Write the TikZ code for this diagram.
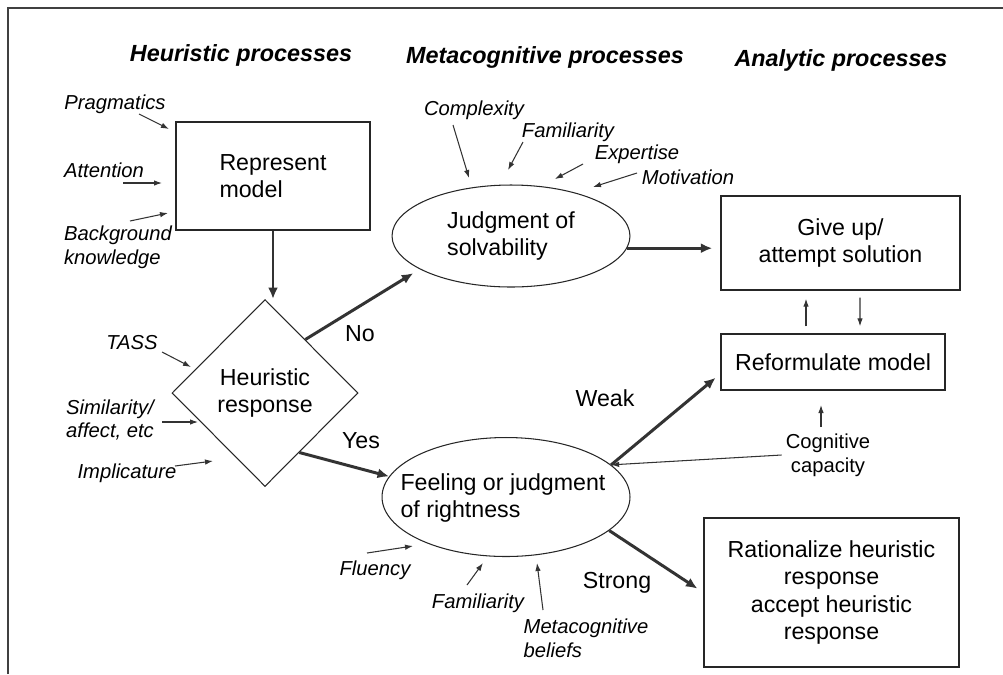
\documentclass[tikz,border=0pt]{standalone}
\usepackage{fontspec}
\setmainfont{Liberation Sans}
\usepackage{tikz}
\usetikzlibrary{shapes.geometric,arrows.meta,calc}
\colorlet{boxLine}{black!85}
\colorlet{arrowLine}{black!80}
\colorlet{frameLine}{black!75}
\newcommand\mainSize{\fontsize{13.2}{15.6}\selectfont}
\newcommand\labelSize{\fontsize{11.5}{13.4}\selectfont}
\newcommand\headSize{\fontsize{13.3}{16}\selectfont}

\begin{document}
\begin{tikzpicture}[
  x=0.02cm,
  y=-0.02cm,
  procBox/.style={
    draw=boxLine,
    line width=0.8pt,
    inner sep=0pt,
    font=\mainSize,
  },
  judgeEllipse/.style={
    ellipse,
    draw=boxLine,
    line width=0.6pt,
    inner sep=0pt,
    font=\mainSize,
  },
  heuristicDiamond/.style={
    diamond,
    aspect=1,
    draw=boxLine,
    line width=0.6pt,
    inner sep=0pt,
    font=\mainSize,
  },
  heading/.style={
    font=\headSize\bfseries\itshape,
    inner sep=0pt,
  },
  factorLabel/.style={
    font=\labelSize\itshape,
    align=left,
    inner sep=0pt,
  },
  branchLabel/.style={
    font=\mainSize,
    inner sep=0pt,
  },
  thinArrow/.style={
    draw=arrowLine,
    line width=0.6pt,
    -{Latex[length=1.6mm,width=1.1mm]},
  },
  thickArrow/.style={
    draw=arrowLine,
    line width=1.7pt,
    -{Latex[length=2.3mm,width=2mm]},
  }
]
\useasboundingbox (0,0) rectangle (1003,674);
\draw[frameLine, line width=1.1pt] (8,674) -- (8,8) -- (1003,8);

\node[heading] (hHeur) at (241,55) {Heuristic processes};
\node[heading] (hMeta) at (545,57) {Metacognitive processes};
\node[heading] (hAnal) at (841,60) {Analytic processes};

\node[procBox, minimum width=3.88cm, minimum height=2.16cm, align=left] (rep) at (273,176) {Represent\\model};
\node[heuristicDiamond, minimum width=3.72cm, minimum height=3.74cm, align=center] (dec) at (265,393) {Heuristic\\response};
\node[judgeEllipse, minimum width=4.76cm, minimum height=2.04cm, align=left] (solv) at (511,236) {Judgment of\\solvability};
\node[judgeEllipse, minimum width=4.96cm, minimum height=2.38cm] (feel) at (506,497) {};
\node[font=\mainSize, align=left, inner sep=0pt] (feelText) at (503,498) {Feeling or judgment\\of rightness};
\node[procBox, minimum width=4.78cm, minimum height=1.88cm, align=center] (giveup) at (840.5,243) {Give up/\\attempt solution};
\node[procBox, minimum width=4.48cm, minimum height=1.12cm] (reform) at (833,362) {Reformulate model};
\node[procBox, minimum width=5.1cm, minimum height=2.98cm, align=center] (rat) at (831.5,592.5) {Rationalize heuristic\\response\\accept heuristic\\response};
\node[font=\labelSize, align=center, inner sep=0pt] (cog) at (828,455) {Cognitive\\capacity};

\node[factorLabel] (prag) at (115,104) {Pragmatics};
\node[factorLabel] (attn) at (104,170) {Attention};
\node[factorLabel] (bgk) at (118,247) {Background\\knowledge};
\node[factorLabel] (tass) at (132,343) {TASS};
\node[factorLabel] (simil) at (110,420) {Similarity/\\affect, etc};
\node[factorLabel] (impl) at (127,473) {Implicature};
\node[factorLabel] (cplx) at (474,110) {Complexity};
\node[factorLabel] (famA) at (568,132) {Familiarity};
\node[factorLabel] (expt) at (637,154) {Expertise};
\node[factorLabel] (motv) at (688,177) {Motivation};
\node[factorLabel] (flu) at (375,570) {Fluency};
\node[factorLabel] (famB) at (478,603) {Familiarity};
\node[factorLabel] (mcb) at (586,638) {Metacognitive\\beliefs};

\node[branchLabel] (no) at (360,334) {No};
\node[branchLabel] (yes) at (361,441) {Yes};
\node[branchLabel] (weak) at (605,398) {Weak};
\node[branchLabel] (strong) at (617,583) {Strong};

\coordinate (prag-from) at (139,114);  \coordinate (prag-to) at (169,129);
\coordinate (attn-from) at (123,183);  \coordinate (attn-to) at (162,183);
\coordinate (bgk-from) at (130,221);   \coordinate (bgk-to) at (168,213);
\coordinate (tass-from) at (162,352);  \coordinate (tass-to) at (191,367);
\coordinate (simil-from) at (162,422); \coordinate (simil-to) at (198,422);
\coordinate (impl-from) at (175,466);  \coordinate (impl-to) at (213,461);
\coordinate (cplx-from) at (453,125);  \coordinate (cplx-to) at (469,178);
\coordinate (famA-from) at (523,142);  \coordinate (famA-to) at (508,170);
\coordinate (expt-from) at (583,164);  \coordinate (expt-to) at (555,179);
\coordinate (motv-from) at (637,173);  \coordinate (motv-to) at (593,187);
\coordinate (flu-from) at (367,553);   \coordinate (flu-to) at (413,546);
\coordinate (famB-from) at (467,585);  \coordinate (famB-to) at (483,563);
\coordinate (mcb-from) at (543,610);   \coordinate (mcb-to) at (537,563);
\coordinate (cog-from) at (821,427);   \coordinate (cog-to) at (821,405);

\foreach \f in {prag,attn,bgk,tass,simil,impl,cplx,famA,expt,motv,flu,famB,mcb,cog}
  \draw[thinArrow] (\f-from) -- (\f-to);

\draw[thickArrow] (rep.south) -- (rep.south |- dec.north);
\draw[thickArrow, shorten >=0.15cm] (dec.53) -- (solv.200);
\draw[thickArrow] (dec.-60) -- (feel.170);
\draw[thickArrow, shorten >=0.16cm] (solv.-6) -- (solv.-6 -| giveup.west);
\draw[thickArrow, shorten >=0.12cm] (feel.17) -- (reform.186);
\draw[thickArrow, shorten >=0.14cm] (feel.-18) -- (rat.west);
\draw[thinArrow] ([xshift=-0.08cm]cog.west) -- (feel.17);
\draw[thinArrow] ($(reform.north)+(-27,-7)$) -- ($(giveup.south)+(-34.5,8)$);
\draw[thinArrow] ($(giveup.south)+(19.5,7)$) -- ($(reform.north)+(27,-7)$);
\end{tikzpicture}
\end{document}
